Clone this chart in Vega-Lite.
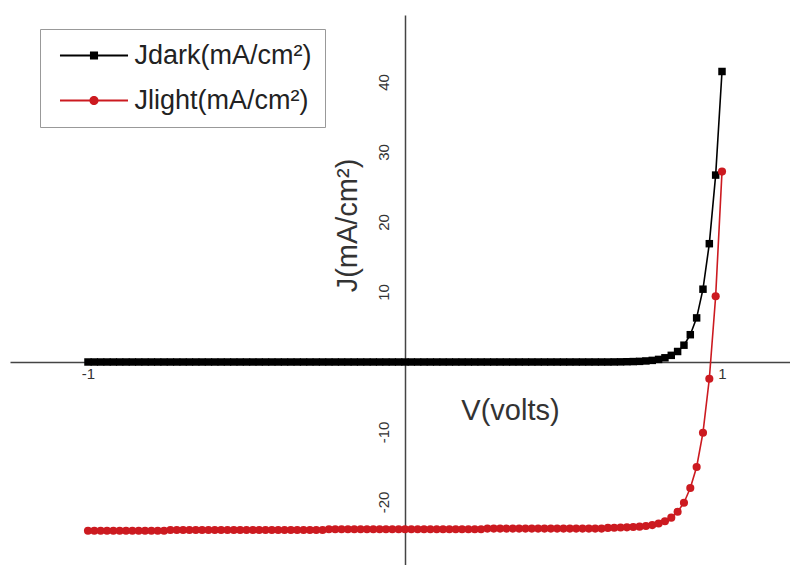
{
  "$schema": "https://vega.github.io/schema/vega-lite/v6.json",
  "width": 780,
  "height": 550,
  "autosize": {"type": "none"},
  "padding": {"left": 10, "top": 15, "right": 0, "bottom": 0},
  "background": "white",
  "config": {"view": {"stroke": null}, "font": "Liberation Sans"},
  "data": {"values": [
    {"V":-1,"dark":0,"light":-24.1},{"V":-0.98,"dark":0,"light":-24.1},{"V":-0.96,"dark":0,"light":-24.1},{"V":-0.94,"dark":0,"light":-24.1},{"V":-0.92,"dark":0,"light":-24.1},{"V":-0.9,"dark":0,"light":-24.1},{"V":-0.88,"dark":0,"light":-24.1},{"V":-0.86,"dark":0,"light":-24.1},{"V":-0.84,"dark":0,"light":-24.1},{"V":-0.82,"dark":0,"light":-24.1},{"V":-0.8,"dark":0,"light":-24.1},{"V":-0.78,"dark":0,"light":-24.1},{"V":-0.76,"dark":0,"light":-24.1},
    {"V":-0.74,"dark":0,"light":-24.0},{"V":-0.72,"dark":0,"light":-24.0},{"V":-0.7,"dark":0,"light":-24.0},{"V":-0.68,"dark":0,"light":-24.0},{"V":-0.66,"dark":0,"light":-24.0},{"V":-0.64,"dark":0,"light":-24.0},{"V":-0.62,"dark":0,"light":-24.0},{"V":-0.6,"dark":0,"light":-24.0},{"V":-0.58,"dark":0,"light":-24.0},{"V":-0.56,"dark":0,"light":-24.0},{"V":-0.54,"dark":0,"light":-24.0},{"V":-0.52,"dark":0,"light":-24.0},{"V":-0.5,"dark":0,"light":-24.0},{"V":-0.48,"dark":0,"light":-24.0},{"V":-0.46,"dark":0,"light":-24.0},{"V":-0.44,"dark":0,"light":-24.0},{"V":-0.42,"dark":0,"light":-24.0},{"V":-0.4,"dark":0,"light":-24.0},{"V":-0.38,"dark":0,"light":-24.0},{"V":-0.36,"dark":0,"light":-24.0},{"V":-0.34,"dark":0,"light":-24.0},{"V":-0.32,"dark":0,"light":-24.0},{"V":-0.3,"dark":0,"light":-24.0},{"V":-0.28,"dark":0,"light":-24.0},{"V":-0.26,"dark":0,"light":-24.0},
    {"V":-0.24,"dark":0,"light":-23.9},{"V":-0.22,"dark":0,"light":-23.9},{"V":-0.2,"dark":0,"light":-23.9},{"V":-0.18,"dark":0,"light":-23.9},{"V":-0.16,"dark":0,"light":-23.9},{"V":-0.14,"dark":0,"light":-23.9},{"V":-0.12,"dark":0,"light":-23.9},{"V":-0.1,"dark":0,"light":-23.9},{"V":-0.08,"dark":0,"light":-23.9},{"V":-0.06,"dark":0,"light":-23.9},{"V":-0.04,"dark":0,"light":-23.9},{"V":-0.02,"dark":0,"light":-23.9},{"V":0,"dark":0,"light":-23.9},{"V":0.02,"dark":0,"light":-23.9},{"V":0.04,"dark":0,"light":-23.9},{"V":0.06,"dark":0,"light":-23.9},{"V":0.08,"dark":0,"light":-23.9},{"V":0.1,"dark":0,"light":-23.9},{"V":0.12,"dark":0,"light":-23.9},{"V":0.14,"dark":0,"light":-23.9},{"V":0.16,"dark":0,"light":-23.9},{"V":0.18,"dark":0,"light":-23.9},{"V":0.2,"dark":0,"light":-23.9},{"V":0.22,"dark":0,"light":-23.9},{"V":0.24,"dark":0,"light":-23.9},
    {"V":0.26,"dark":0,"light":-23.8},{"V":0.28,"dark":0,"light":-23.8},{"V":0.3,"dark":0,"light":-23.8},{"V":0.32,"dark":0,"light":-23.8},{"V":0.34,"dark":0,"light":-23.8},{"V":0.36,"dark":0,"light":-23.8},{"V":0.38,"dark":0,"light":-23.8},{"V":0.4,"dark":0,"light":-23.8},{"V":0.42,"dark":0,"light":-23.8},{"V":0.44,"dark":0,"light":-23.8},{"V":0.46,"dark":0,"light":-23.8},{"V":0.48,"dark":0,"light":-23.8},{"V":0.5,"dark":0,"light":-23.8},{"V":0.52,"dark":0,"light":-23.8},{"V":0.54,"dark":0,"light":-23.8},{"V":0.56,"dark":0,"light":-23.8},{"V":0.58,"dark":0,"light":-23.8},{"V":0.6,"dark":0,"light":-23.8},{"V":0.62,"dark":0,"light":-23.8},
    {"V":0.64,"dark":0,"light":-23.7},{"V":0.66,"dark":0.01,"light":-23.67},{"V":0.68,"dark":0.02,"light":-23.64},{"V":0.7,"dark":0.04,"light":-23.62},{"V":0.72,"dark":0.06,"light":-23.58},{"V":0.74,"dark":0.09,"light":-23.52},{"V":0.76,"dark":0.15,"light":-23.43},{"V":0.78,"dark":0.23,"light":-23.3},{"V":0.8,"dark":0.37,"light":-23.08},{"V":0.82,"dark":0.6,"light":-22.75},{"V":0.84,"dark":0.95,"light":-22.24},{"V":0.86,"dark":1.5,"light":-21.4},{"V":0.88,"dark":2.4,"light":-20.1},{"V":0.9,"dark":3.9,"light":-18.0},{"V":0.92,"dark":6.3,"light":-15.0},{"V":0.94,"dark":10.4,"light":-10.1},{"V":0.96,"dark":16.9,"light":-2.4},{"V":0.98,"dark":26.7,"light":9.4},{"V":1,"dark":41.5,"light":27.2}
  ]},
  "transform": [{"fold": ["dark", "light"], "as": ["series", "J"]}],
  "encoding": {
    "x": {"field": "V", "type": "quantitative", "scale": {"domain": [-1.246, 1.2145], "nice": false, "zero": false},
      "axis": {"title": "V(volts)", "orient": "bottom", "offset": -203, "values": [-1, 1], "labelExpr": "'' + datum.value", "ticks": false, "grid": false, "domainColor": "#444", "domainWidth": 1.5, "labelFontSize": 15, "labelColor": "#333", "labelPadding": 4, "labelFont": "Liberation Sans", "titleFont": "Liberation Sans", "titleFontSize": 29, "titleFontWeight": "normal", "titleColor": "#333", "titleX": 500, "titleY": 48, "titleAlign": "center", "titleBaseline": "middle"}},
    "y": {"field": "J", "type": "quantitative", "scale": {"domain": [-29, 49.57], "nice": false, "zero": false},
      "axis": {"title": "J(mA/cm²)", "orient": "left", "offset": -395, "values": [-20, -10, 10, 20, 30, 40], "labelExpr": "'' + datum.value", "labelAngle": 270, "ticks": false, "grid": false, "domainColor": "#444", "domainWidth": 1.5, "labelFontSize": 15, "labelColor": "#333", "labelPadding": 14, "labelFont": "Liberation Sans", "titleFont": "Liberation Sans", "titleFontSize": 29, "titleFontWeight": "normal", "titleColor": "#333", "titleAngle": 270, "titleX": -58, "titleY": 210, "titleAlign": "center", "titleBaseline": "middle"}},
    "color": {"field": "series", "type": "nominal", "scale": {"domain": ["dark", "light"], "range": ["#000000", "#cc1a20"]},
      "legend": {"title": null, "orient": "none", "legendX": 30, "legendY": 14, "strokeColor": "#999", "padding": 13, "labelFontSize": 27, "labelFont": "Liberation Sans", "labelColor": "#222", "labelLimit": 0, "labelOffset": 27, "symbolOffset": 27.5, "rowPadding": 17, "symbolSize": 729, "symbolStrokeWidth": 0,
        "labelExpr": "datum.value === 'dark' ? 'Jdark(mA/cm²)' : 'Jlight(mA/cm²)'",
        "symbolType": {"expr": "datum.value === 'dark' ? 'M-2.52,-0.075H2.52V0.075H-2.52Z M-0.3,-0.3H0.3V0.3H-0.3Z' : 'M-2.52,-0.075H2.52V0.075H-2.52Z M-0.34,0A0.34,0.34 0 1,1 0.34,0A0.34,0.34 0 1,1 -0.34,0Z'"}}}
  },
  "layer": [
    {"mark": {"type": "line", "strokeWidth": 1.6}},
    {"transform": [{"filter": "datum.series === 'dark'"}],
     "mark": {"type": "point", "filled": true, "opacity": 1, "shape": "square", "size": 56}},
    {"transform": [{"filter": "datum.series === 'light'"}],
     "mark": {"type": "point", "filled": true, "opacity": 1, "shape": "circle", "size": 66}}
  ]
}
